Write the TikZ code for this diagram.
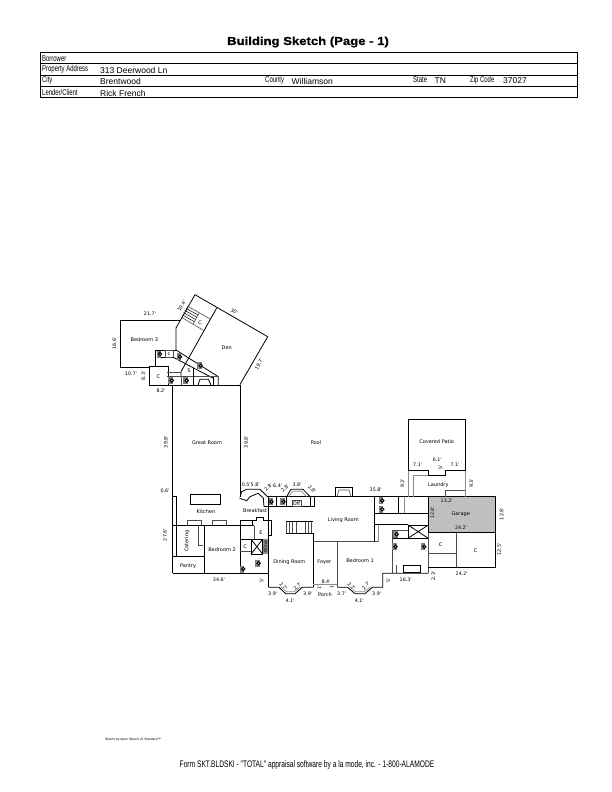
\documentclass[tikz,border=0pt]{standalone}
\usepackage{fontspec}
\usetikzlibrary{calc}
\setmainfont{Liberation Sans}
\newfontfamily\narrowfont[FakeStretch=0.7]{Liberation Sans}
\newfontfamily\titlefont[UprightFont=* Bold,FakeStretch=1.14,FakeBold=1]{Liberation Sans}
\newfontfamily\roomfont{DejaVu Sans}
\tikzset{
  wall/.style={line width=0.8pt,black},
  thinwall/.style={line width=0.6pt,black!70},
  greywall/.style={line width=0.7pt,black!45},
  room/.style={font=\roomfont\fontsize{5}{6}\selectfont,inner sep=0pt},
  dim/.style={font=\roomfont\fontsize{4.8}{6}\selectfont,inner sep=0pt},
  caption/.style={font=\narrowfont\fontsize{8.5}{9}\selectfont,inner sep=0pt,anchor=west},
  field/.style={font=\fontsize{8.5}{9}\selectfont,inner sep=0pt,anchor=west},
  fixture/.pic={
    \fill[black!50] (-3.5,-3.5) rectangle (1,3.5);
    \draw[line width=1pt,fill=white] (0,0) circle (1.6);
  }
}
\begin{document}
\begin{tikzpicture}[x=1pt,y=-1pt]
  \useasboundingbox (0,0) rectangle (612,792);
  \fill[white] (0,0) rectangle (612,792);

  % heading and table
  \node[font=\titlefont\fontsize{11.5}{12}\selectfont,inner sep=0pt] (title) at (308,42) {Building Sketch (Page - 1)};
  \draw[line width=0.7pt] (40,52) rectangle (577,97);
  \foreach \y in {63.5,75,86} {
    \draw[line width=0.7pt] (40,\y) -- (577,\y);
  }
  \node[caption] (borrower) at (42,59) {Borrower};
  \node[caption] (address) at (42,69) {Property Address};
  \node[caption] (city) at (42,80) {City};
  \node[caption] (lender) at (42,92) {Lender/Client};
  \node[caption] (county) at (265,80) {County};
  \node[caption] (statecap) at (413,80) {State};
  \node[caption] (zipcap) at (470,80) {Zip Code};
  \node[field] (addressval) at (100,70.5) {313 Deerwood Ln};
  \node[field] (cityval) at (100,81) {Brentwood};
  \node[field] (countyval) at (291.5,81) {Williamson};
  \node[field] (stateval) at (434.5,81) {TN};
  \node[field] (zipval) at (503,81) {37027};
  \node[field] (lenderval) at (100,93) {Rick French};

  % garage
  \fill[black!25] (428.3,496.7) rectangle (495.3,532.5);
  \draw[wall] (428.3,496.7) rectangle (495.3,532.5);

  % bedroom 3 wing
  \draw[wall] (180,320.7) -- (120,320.7) -- (120,367) -- (149.3,367);
  \draw[wall] (149.3,366.7) rectangle (168.3,385);
  \draw[wall] (155.7,367) -- (155.7,350) -- (176,350);
  \draw[wall] (158,357.7) -- (172.7,357.7);
  \draw[thinwall] (165,350.7) rectangle (173.3,357.3);
  \draw[wall] (176,350) -- (176,328) -- (195,294.7) -- (267.7,336.7) -- (240,384.5);
  \draw[wall] (216.7,308) -- (181,371.7) -- (181,377);
  % stair and closet
  \draw[thinwall] (187.3,306) -- (210.3,319);
  \draw[thinwall] (181,317) -- (203.7,330.5);
  \draw[thinwall] (199.3,312.7) -- (193.3,323.7);
  \foreach \i in {1,...,4} {
    \draw[line width=0.5pt] ($(187.3,306)+(\i*-1.25,\i*2.2)$) -- ++(12,6.9);
  }
  \draw[wall] (176,350) -- (218.3,376.7) -- (218.3,385);
  \draw[wall] (172.7,357) -- (213.3,378.3);
  \draw[wall] (168.3,385) -- (240,385);
  \draw[thinwall] (167.3,372.3) -- (181,372.3);
  \draw[thinwall] (167.3,376.7) -- (218.3,376.7);
  \draw[thinwall] (181.7,376.7) -- (181.7,385);
  \draw[wall] (193.3,368) -- (193.3,385);
  \draw[wall] (213.3,377) -- (213.3,385);
  \draw[wall] (198,385) -- (200,379.3) -- (208.5,379.3) -- (211,385);
  \pic at (171.7,380.5) {fixture};
  \pic at (186.7,380.5) {fixture};
  \pic at (160,354) {fixture};
  \pic at (180,356.7) {fixture};
  \pic at (200.7,365.7) {fixture};

  % great room and kitchen
  \draw[wall] (172.5,385) -- (172.5,573.3);
  \draw[wall] (240,385) -- (240,496.7);
  \draw[wall] (176.7,496) -- (176.7,556.7);
  \draw[wall] (172.5,496) -- (176.7,496);
  \draw[wall] (190.7,494) rectangle (220.7,504.7);
  \draw[wall] (172.5,525.5) -- (254.3,525.5);
  \draw[thinwall] (187.3,525.3) -- (187.3,520) -- (201.7,520) -- (201.7,525.3);
  \draw[thinwall] (212,525.3) -- (212,520) -- (226.7,520) -- (226.7,525.3);
  \draw[wall] (172.5,556.7) -- (204,556.7);
  \draw[wall] (204,525.3) -- (204,573.3);
  \draw[thinwall] (198.3,525.3) -- (198.3,545.7) -- (203.3,545.7);
  \draw[wall] (172.5,573.3) -- (268.3,573.3);

  % breakfast and service rooms
  \draw[wall] (240,496.7) -- (241.7,491.7) -- (246.7,489.3) -- (260,489.3) -- (267.3,496.5) -- (314,496.5);
  \draw[wall] (239.5,498.3) -- (246.7,500.7) -- (250,496.7) -- (258,493.3) -- (263.3,498) -- (264,506.7);
  \draw[wall] (264,506.7) -- (314,506.7);
  \draw[wall] (276,496.5) -- (276,506.7);
  \draw[wall] (286.7,496.5) -- (286.7,506.7);
  \draw[wall] (240,520) -- (240,573.3);
  \draw[wall] (240,520) -- (252,520);
  \draw[wall] (252,525.5) -- (252,520) -- (256,520) -- (256,517.3) -- (263.3,517.3) -- (263.3,520) -- (271,520) -- (271,535) -- (268.3,535);
  \draw[thinwall] (254.3,525.5) -- (254.3,539.3);
  \draw[wall] (240,539.3) -- (268.3,539.3);
  \draw[thinwall] (240,551.7) -- (251,551.7);
  \fill[black!45] (262.7,539.3) rectangle (268.3,554);
  \draw[wall] (251,539.3) rectangle (262.7,554);
  \draw[wall] (251,539.3) -- (262.7,554) (262.7,539.3) -- (251,554);
  \pic at (258.7,563.3) {fixture};
  \pic at (243.3,569) {fixture};
  \pic at (271.5,501.7) {fixture};
  \pic at (283.7,501.7) {fixture};
  \draw[wall] (268.3,496.5) -- (268.3,587.3);
  \draw[wall] (286.7,496.5) -- (291,489.3) -- (303,489.3) -- (310,496.5);
  \draw[greywall] (288.7,496.5) -- (292.5,491.3) -- (301.5,491.3) -- (306.5,496.5);
  \draw[thinwall] (292,500) rectangle (301,506.7);
  \draw[wall] (310,496.5) -- (310,506.7);
  \draw[wall] (314,496) -- (314,506.7);

  % living room
  \draw[wall] (314,496.7) -- (428.3,496.7);
  \draw[wall] (335,496.7) -- (335,487.3) -- (352.7,487.3) -- (352.7,496.7);
  \draw[thinwall] (337,496.7) -- (339,490) -- (349,490) -- (351,496.7);
  \draw[wall] (286,521.7) -- (313.3,521.7) (286,533) -- (313.3,533);
  \foreach \x in {286,289.3,292.7,296,305,308.3,311.7} {
    \draw[thinwall] (\x,521.7) -- (\x,533);
  }

  % dining room, foyer, bedroom 1 with their bays
  \draw[wall] (268.3,587.3) -- (279,587.3) -- (285.7,593.7) -- (295,593.7) -- (302.3,587.3) -- (313.3,587.3);
  \draw[greywall] (281,587.3) -- (286.7,591.7) -- (294,591.7) -- (300,587.3);
  \draw[wall] (313.3,533) -- (313.3,587.3);
  \draw[thinwall] (313.3,541.7) -- (378.3,541.7);
  \draw[thinwall] (337.3,541.7) -- (337.3,587.3);
  \draw[greywall] (313.3,584.3) -- (337.3,584.3);
  \draw[wall] (337.3,587.3) -- (347.7,587.3) -- (355,593.7) -- (365,593.7) -- (372.3,587.3) -- (382.7,587.3) -- (382.7,573.3) -- (428.3,573.3);
  \draw[greywall] (350,587.3) -- (355.7,591.7) -- (364,591.7) -- (370,587.3);

  % garage side rooms
  \draw[wall] (374.3,496.7) -- (374.3,541.7);
  \draw[greywall] (378.3,524.3) -- (378.3,541.7);
  \draw[wall] (374.3,513.3) -- (428.3,513.3);
  \draw[wall] (374.3,524.3) -- (408,524.3);
  \draw[wall] (398.3,496.7) -- (398.3,513.3);
  \draw[greywall] (404.3,496.7) -- (404.3,513.3);
  \draw[wall] (408,525) rectangle (428.3,538.3);
  \draw[wall] (408,525) -- (428.3,538.3) (428.3,525) -- (408,538.3);
  \draw[thinwall] (392.7,530) -- (392.7,573.3);
  \draw[thinwall] (392.7,530) -- (408,530);
  \draw[thinwall] (396.7,565) -- (396.7,573.3);
  \draw[wall] (392.7,538.3) -- (428.3,538.3);
  \draw[wall] (403.3,565) rectangle (420,572.7);
  \draw[thinwall] (428.3,532.5) -- (428.3,573.3);
  \draw[wall] (428.3,532.7) -- (495.7,532.7) -- (495.7,567.3) -- (428.3,567.3);
  \draw[thinwall] (456,532.7) -- (456,567.3);
  \draw[thinwall] (428.3,553.3) -- (456,553.3);
  \pic at (382.3,500.7) {fixture};
  \pic at (382.3,509.3) {fixture};
  \pic at (396.7,534.3) {fixture};
  \pic at (395.5,546.7) {fixture};
  \pic at (424.3,546.7) {fixture};

  % patio and laundry
  \draw[wall] (408.3,470.7) -- (408.3,419.3) -- (465,419.3) -- (465,470.7);
  \draw[wall] (408.3,470.7) -- (428.3,470.7) -- (428.3,475) -- (445,475) -- (445,470.7) -- (465,470.7);
  \draw[greywall] (465,470.7) -- (465,496.7);
  \draw[greywall] (408.3,470.7) -- (408.3,496.7);
  \draw[greywall] (413.3,496.7) -- (413.3,475.7) -- (428.3,475.7);
  \draw[thinwall] (445,496.7) -- (445,490) -- (465,490);

  % room names
  \foreach \x/\y/\t [count=\i] in {
    144.3/339.3/Bedroom 3, 226.7/347.3/Den, 200/322.7/C, 158.3/376.7/C,
    189/370.7/S, 169/353.7/c, 207/443/Great Room, 316/443/Pool,
    206/512/Kitchen, 255/511/Breakfast, 261/532.7/E, 245/547/C,
    222/550/Bedroom 2, 188/565.7/Pantry, 289.3/561.7/Dining Room,
    324.3/561.7/Foyer, 360/560.7/Bedroom 1, 343.3/520/Living Room,
    436.7/441.7/Covered Patio, 438.3/485.3/Laundry, 460.7/514.3/Garage,
    440.7/545/C, 475.7/551/C, 296.5/503.5/Off, 325/595/Porch} {
    \node[room] (room\i) at (\x,\y) {\t};
  }
  \node[room,rotate=90] (catering) at (187,541) {Catering};
  \node[room,rotate=90,font=\roomfont\fontsize{4.5}{5}\selectfont] (wine) at (265.5,546.7) {Wine};

  % dimensions
  \foreach \x/\y/\r/\t [count=\i] in {
    150/314/0/21.7', 181.7/305.7/60/10.4', 234.3/311.7/-30/30', 259/364/60/19.7',
    114.3/343.3/90/16.6', 131/373.3/0/10.7', 143.3/375.7/90/8.3', 161/391/0/8.2',
    166/442/90/39.8', 246/442/90/39.8', 165/490.7/0/0.6', 165/535/90/27.6',
    219/580/0/34.6', 261.7/580.7/90/5', 250.7/485/0/0.5'5.8', 268.3/487.5/45/2.8',
    277.7/485.7/0/6.4', 285/488.5/45/2.8', 297/485/0/3.8', 312/489/-45/2.8',
    375.7/490/0/35.8', 402.3/483.3/90/9.3', 471.3/483.3/90/9.3', 417.7/464.3/0/7.1',
    455/464.3/0/7.1', 437.3/459.3/0/6.1', 440.7/467.3/90/5', 446.7/500.7/0/13.2',
    432.3/512.7/90/12.8', 501.7/514/90/12.8', 461/527.7/0/24.2', 499/549.3/90/12.5',
    461.7/573.3/0/24.2', 433.3/575.7/90/2.3', 405.7/580/0/16.3', 388.3/580.7/90/5',
    272.7/593.7/0/3.9', 290/600.7/0/4.1', 307.7/593.7/0/3.9', 326/581.7/0/8.4',
    341.7/593.7/0/3.7', 359.3/600.7/0/4.1', 376.7/593.7/0/3.9', 283.5/586.5/-45/2.7',
    297.5/586.5/45/2.7', 351.5/586.5/-45/2.7', 366/585.7/45/2.7', 319/587.3/90/1',
    331.7/587.3/90/1} {
    \node[dim,rotate=\r] (dim\i) at (\x,\y) {\t};
  }

  % footer
  \node[font=\fontsize{3.3}{4}\selectfont,inner sep=0pt] (apex) at (133,740) {Sketch by Apex Sketch v5 Standard™};
  \node[font=\narrowfont\fontsize{9.5}{11}\selectfont,inner sep=0pt] (form) at (307,765) {Form SKT.BLDSKI - "TOTAL" appraisal software by a la mode, inc. - 1-800-ALAMODE};
\end{tikzpicture}
\end{document}
